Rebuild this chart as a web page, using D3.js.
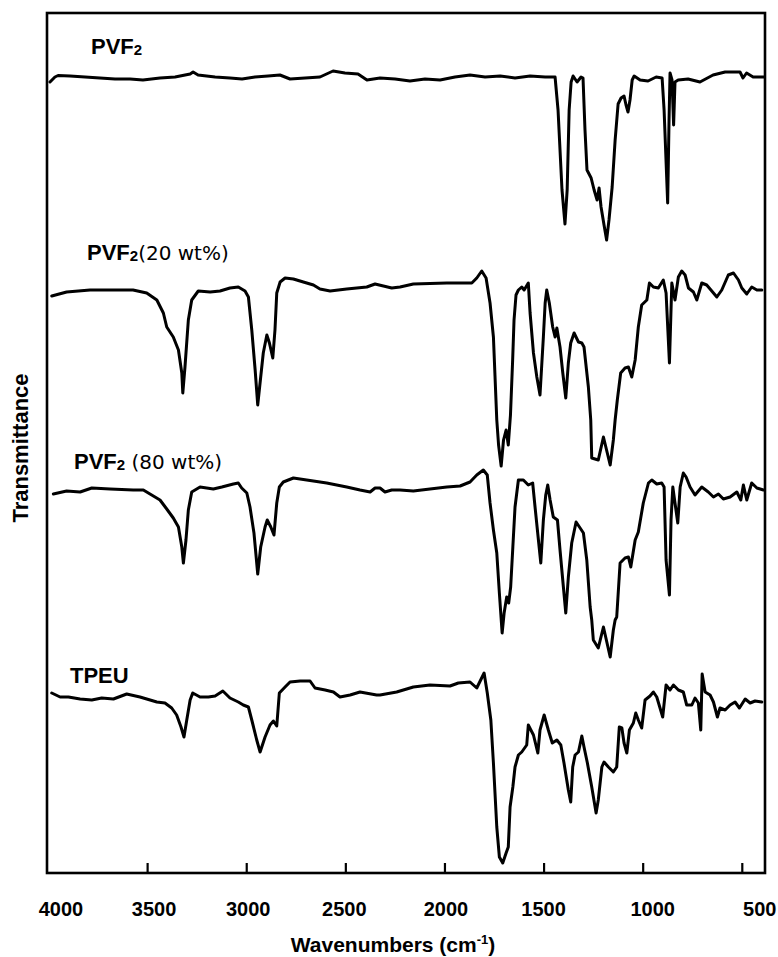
<!DOCTYPE html>
<html>
<head>
<meta charset="utf-8">
<script src="https://cdn.jsdelivr.net/npm/d3@7"></script>
<style>
  body { margin: 0; background: #fff; }
  svg { display: block; }
  text { font-family: "Liberation Sans", Arial, sans-serif; fill: #000; }
</style>
</head>
<body>
<svg></svg>
<script>
// [wavenumber cm-1, transmittance (arbitrary units, stacked)]
const pvf2 = [[3990,791],[3965,796],[3949,797.5],[3889,797],[3813,796],[3738,795],[3662,794],[3586,794],[3521,793],[3435,795],[3359,796],[3283,799],[3268,801],[3243,798],[3157,796],[3082,795],[3021,794],[2956,796],[2890,797],[2830,798],[2779,794],[2703,795],[2628,796],[2562,802],[2502,800],[2436,799],[2391,793],[2325,795],[2249,794],[2174,792],[2098,794],[2022,793],[1947,796],[1871,798],[1795,796],[1719,797],[1644,795],[1568,797],[1492,796],[1442,796],[1427,763],[1407,683],[1392,649],[1381,683],[1371,763],[1361,791],[1351,797],[1331,791],[1311,796],[1301,795],[1291,743],[1281,703],[1260,695],[1245,683],[1230,673],[1220,685],[1210,666],[1195,648],[1182,633],[1170,653],[1154,686],[1139,733],[1124,769],[1109,775],[1094,777],[1084,768],[1074,761],[1064,773],[1053,793],[1043,797],[1013,793],[973,792],[932,796],[902,795],[892,763],[874,670],[867,753],[862,800],[852,793],[844,748],[837,791],[821,793],[771,794],[711,791],[645,798],[584,801],[509,801],[494,795],[476,800],[443,796],[388,796]];

const pvf2_20 = [[3981,577],[3906,581],[3788,583],[3687,583],[3571,583],[3502,580],[3451,573],[3418,560],[3401,546],[3368,536],[3342,523],[3325,500],[3320,480],[3309,506],[3292,553],[3275,573],[3242,582],[3182,581],[3132,582],[3082,585],[3040,586],[3006,582],[2989,576],[2972,543],[2955,503],[2942,468],[2927,496],[2914,520],[2896,538],[2883,530],[2866,515],[2855,543],[2846,580],[2829,591],[2804,595],[2762,594],[2712,591],[2661,588],[2628,584],[2577,582],[2493,584],[2392,586],[2350,589],[2308,587],[2266,585],[2224,586],[2157,589],[1988,590],[1862,590],[1837,595],[1812,602],[1790,595],[1770,570],[1753,536],[1736,453],[1727,428],[1714,407],[1702,433],[1689,443],[1678,428],[1667,458],[1656,513],[1649,553],[1639,578],[1627,583],[1610,586],[1598,583],[1577,590],[1568,560],[1551,520],[1534,496],[1518,478],[1501,536],[1492,570],[1484,583],[1471,570],[1454,546],[1442,536],[1433,545],[1417,526],[1403,500],[1388,475],[1375,510],[1363,530],[1346,540],[1324,531],[1307,530],[1296,526],[1274,486],[1262,453],[1257,415],[1224,413],[1198,436],[1164,408],[1148,433],[1139,453],[1128,473],[1111,500],[1089,505],[1072,506],[1055,496],[1038,513],[1022,546],[1005,568],[979,573],[966,590],[946,586],[921,585],[896,593],[882,580],[865,510],[853,590],[837,573],[820,596],[803,602],[786,598],[769,585],[744,581],[727,573],[702,590],[677,588],[643,580],[626,576],[601,583],[568,598],[542,600],[517,593],[500,585],[475,579],[450,586],[424,583],[399,583]];

const pvf2_80 = [[3973,379],[3906,382],[3838,381],[3779,385],[3687,384],[3570,383],[3519,383],[3477,378],[3435,373],[3401,364],[3368,355],[3342,346],[3325,326],[3317,310],[3304,333],[3292,363],[3275,381],[3233,386],[3166,384],[3123,386],[3065,389],[3040,390],[3023,385],[2997,380],[2981,366],[2961,340],[2942,299],[2927,326],[2905,346],[2894,353],[2876,346],[2860,338],[2846,370],[2833,386],[2813,391],[2762,395],[2695,393],[2594,390],[2493,386],[2426,383],[2375,381],[2350,385],[2325,385],[2300,381],[2266,383],[2224,383],[2157,382],[2073,384],[1988,386],[1921,387],[1871,391],[1837,398],[1804,403],[1784,398],[1770,370],[1753,343],[1736,320],[1723,280],[1709,240],[1699,260],[1686,276],[1676,270],[1666,286],[1655,326],[1644,366],[1627,393],[1602,393],[1577,388],[1555,390],[1543,366],[1526,333],[1514,310],[1501,353],[1489,378],[1479,388],[1467,373],[1451,356],[1430,353],[1417,323],[1400,286],[1388,260],[1375,296],[1358,330],[1336,351],[1319,346],[1299,340],[1282,313],[1265,266],[1257,253],[1249,233],[1224,225],[1198,246],[1164,216],[1148,243],[1139,253],[1131,256],[1114,310],[1089,315],[1072,316],[1060,306],[1038,333],[1022,341],[997,370],[971,390],[954,393],[929,389],[904,390],[892,386],[882,313],[865,278],[857,353],[848,386],[837,370],[823,350],[811,386],[795,400],[781,396],[761,386],[736,378],[702,386],[669,381],[643,376],[618,379],[593,374],[559,376],[525,381],[505,373],[492,388],[475,373],[450,390],[424,385],[391,383]];

const tpeu = [[3981,180],[3939,176],[3897,176],[3838,174],[3779,173],[3729,175],[3670,174],[3603,179],[3536,176],[3502,174],[3451,171],[3410,170],[3376,165],[3351,158],[3329,146],[3314,136],[3300,153],[3283,173],[3270,180],[3233,176],[3191,176],[3157,177],[3118,182],[3082,175],[3040,171],[3015,168],[2989,166],[2972,153],[2947,133],[2930,121],[2905,136],[2880,148],[2863,152],[2846,147],[2833,180],[2804,186],[2779,191],[2728,192],[2678,192],[2653,185],[2602,183],[2560,181],[2527,176],[2476,178],[2426,181],[2342,178],[2325,178],[2241,181],[2157,186],[2073,188],[1972,187],[1930,190],[1871,191],[1837,185],[1800,200],[1784,180],[1766,153],[1753,110],[1736,46],[1723,16],[1706,10],[1689,20],[1678,26],[1669,66],[1655,86],[1644,106],[1627,118],[1610,121],[1585,128],[1577,148],[1551,138],[1529,120],[1518,143],[1497,158],[1476,143],[1456,130],[1433,133],[1413,128],[1397,110],[1375,83],[1363,71],[1353,106],[1341,118],[1324,121],[1307,137],[1296,126],[1279,110],[1257,86],[1235,60],[1224,73],[1206,106],[1195,111],[1173,106],[1148,101],[1131,106],[1118,146],[1105,145],[1094,130],[1080,120],[1067,143],[1047,150],[1035,160],[1022,153],[1005,145],[988,173],[963,177],[946,181],[929,176],[899,156],[882,188],[862,183],[845,188],[820,183],[795,181],[778,168],[752,168],[736,175],[719,170],[707,143],[700,199],[685,181],[660,178],[643,171],[623,156],[610,165],[584,163],[559,168],[534,171],[512,165],[483,174],[458,170],[433,172],[399,171]];

const seriesNames = ["PVF2", "PVF2 (20 wt%)", "PVF2 (80 wt%)", "TPEU"];
const tickValues = [4000, 3500, 3000, 2500, 2000, 1500, 1000, 500];

function drawChart() {
    var svgWidth = 778, svgHeight = 957;
    var frame = { left: 47, right: 765, top: 13, bottom: 873 };

    var svg = d3.select("svg").attr("width", svgWidth).attr("height", svgHeight);

    var x = d3.scaleLinear().domain([4000, 500]).range([48, 741.8]);
    var y = d3.scaleLinear().domain([0, 860]).range([frame.bottom, frame.top]);

    // Frame
    svg.append("rect")
        .attr("x", frame.left)
        .attr("y", frame.top)
        .attr("width", frame.right - frame.left)
        .attr("height", frame.bottom - frame.top)
        .attr("fill", "none")
        .attr("stroke", "#000")
        .attr("stroke-width", 2.6);

    // Inward ticks on the bottom edge
    var axis = d3.axisBottom(x)
        .tickValues(tickValues.slice(1))
        .tickSize(-10)
        .tickFormat("");
    var ag = svg.append("g")
        .attr("transform", "translate(0," + frame.bottom + ")")
        .call(axis);
    ag.select(".domain").remove();
    ag.selectAll("line").attr("stroke", "#000").attr("stroke-width", 2.2);

    // Tick labels (printed slightly off the tick marks in the original)
    var labelNudge = [13, 7, 2, -1, 1.5, 0, 10, 18];
    svg.append("g").selectAll("text")
        .data(tickValues)
        .join("text")
        .attr("x", function(d, i) { return x(d) + labelNudge[i]; })
        .attr("y", 916)
        .attr("text-anchor", "middle")
        .attr("font-size", 20)
        .attr("font-weight", "bold")
        .text(function(d) { return d; });

    // Axis titles
    var xt = svg.append("text")
        .attr("x", 393)
        .attr("y", 952)
        .attr("text-anchor", "middle")
        .attr("font-size", 21)
        .attr("font-weight", "bold");
    xt.append("tspan").text("Wavenumbers (cm");
    xt.append("tspan").attr("font-size", 13).attr("dy", -8).text("-1");
    xt.append("tspan").attr("dy", 8).text(")");

    svg.append("text")
        .attr("transform", "translate(28,448) rotate(-90)")
        .attr("text-anchor", "middle")
        .attr("font-size", 22)
        .attr("font-weight", "bold")
        .text("Transmittance");

    // Spectra
    var line = d3.line()
        .x(function(d) { return x(d[0]); })
        .y(function(d) { return y(d[1]); });

    [pvf2, pvf2_20, pvf2_80, tpeu].forEach(function(s) {
        svg.append("path")
            .datum(s)
            .attr("fill", "none")
            .attr("stroke", "#000")
            .attr("stroke-width", 3)
            .attr("stroke-linejoin", "round")
            .attr("stroke-linecap", "round")
            .attr("d", line);
    });

    // Trace labels
    var labelPos = [[91, 54], [87, 260], [74, 469], [70, 683]];
    seriesNames.forEach(function(name, i) {
        var t = svg.append("text")
            .attr("x", labelPos[i][0])
            .attr("y", labelPos[i][1])
            .attr("font-size", 22)
            .attr("font-weight", "bold");
        if (name.indexOf("PVF2") === 0) {
            t.append("tspan").text("PVF");
            t.append("tspan").attr("font-size", 15).attr("dy", 1).text("2");
            var rest = name.slice(4);
            if (rest.length) {
                t.append("tspan")
                    .attr("dy", -1)
                    .attr("font-weight", "normal")
                    .attr("font-size", 20)
                    .style("font-family", "'DejaVu Sans', sans-serif")
                    .text(i === 1 ? rest.trim() : "\u00a0" + rest.trim());
            }
        } else {
            t.text(name);
        }
    });
}

drawChart();
</script>
</body>
</html>
